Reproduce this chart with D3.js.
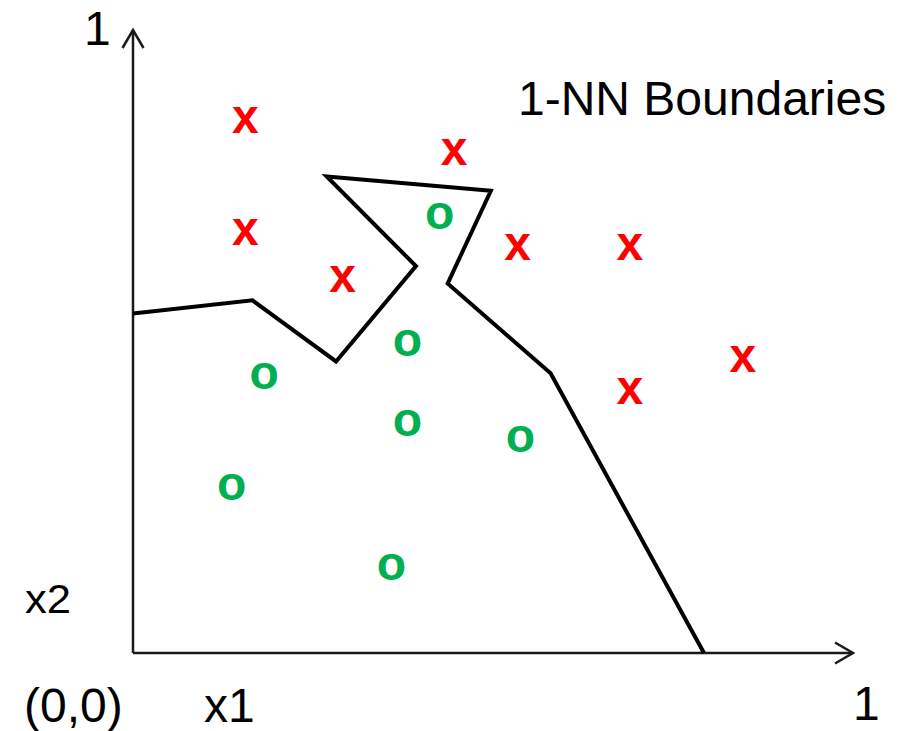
<!DOCTYPE html>
<html>
<head>
<meta charset="utf-8">
<script src="https://cdn.jsdelivr.net/npm/d3@7"></script>
<style>
  html, body { margin: 0; padding: 0; background: #fff; }
  svg { display: block; font-family: "Liberation Sans", Arial, sans-serif; }
</style>
</head>
<body>
<svg id="chart" width="914" height="731"></svg>
<script>
// Class "x" training points (x1, x2)
const crossX1 = [0.156, 0.156, 0.446, 0.291, 0.534, 0.690, 0.847, 0.690];
const crossX2 = [0.855, 0.675, 0.804, 0.599, 0.651, 0.651, 0.471, 0.420];

// Class "o" training points (x1, x2)
const circleX1 = [0.426, 0.381, 0.182, 0.381, 0.538, 0.137, 0.359];
const circleX2 = [0.701, 0.497, 0.444, 0.369, 0.342, 0.266, 0.137];

// 1-NN decision boundary vertices
const boundaryX1 = [0.000, 0.166, 0.282, 0.393, 0.269, 0.497, 0.437, 0.580, 0.793];
const boundaryX2 = [0.545, 0.566, 0.468, 0.621, 0.765, 0.742, 0.593, 0.449, 0.000];

const title = "1-NN Boundaries";

const svg = d3.select("#chart");
const x = d3.scaleLinear().domain([0, 1]).range([133, 853]);
const y = d3.scaleLinear().domain([0, 1]).range([653, 30]);

const axisColor = "#1a1a1a";

// axes with open arrowheads
svg.append("line")
  .attr("x1", x(0)).attr("y1", y(0)).attr("x2", x(1)).attr("y2", y(0))
  .attr("stroke", axisColor).attr("stroke-width", 2.5);
svg.append("line")
  .attr("x1", x(0)).attr("y1", y(0)).attr("x2", x(0)).attr("y2", y(1))
  .attr("stroke", axisColor).attr("stroke-width", 2.5);
svg.append("path")
  .attr("d", `M${x(1) - 18},${y(0) - 10.5}L${x(1)},${y(0)}L${x(1) - 18},${y(0) + 10.5}`)
  .attr("fill", "none").attr("stroke", axisColor).attr("stroke-width", 2.5);
svg.append("path")
  .attr("d", `M${x(0) - 10.5},${y(1) + 18}L${x(0)},${y(1)}L${x(0) + 10.5},${y(1) + 18}`)
  .attr("fill", "none").attr("stroke", axisColor).attr("stroke-width", 2.5);

// axis labels
const labelSize = 48;
svg.append("text").attr("x", 84).attr("y", 45).attr("font-size", labelSize).text("1");
svg.append("text").attr("x", 853).attr("y", 720).attr("font-size", labelSize).text("1");
svg.append("text").attr("x", 24).attr("y", 722).attr("font-size", labelSize).text("(0,0)");
svg.append("text").attr("x", 204).attr("y", 722).attr("font-size", labelSize).text("x1");
svg.append("text").attr("x", 25).attr("y", 613).attr("font-size", 40)
  .attr("textLength", 46).attr("lengthAdjust", "spacingAndGlyphs").text("x2");

// title
svg.append("text").attr("x", 518).attr("y", 115).attr("font-size", labelSize).text(title);

// decision boundary
const boundary = boundaryX1.map((v, i) => [v, boundaryX2[i]]);
svg.append("path")
  .datum(boundary)
  .attr("d", d3.line().x(d => x(d[0])).y(d => y(d[1])))
  .attr("fill", "none")
  .attr("stroke", "#000")
  .attr("stroke-width", 4)
  .attr("stroke-linejoin", "miter");

// training points drawn as bold glyphs
const crosses = crossX1.map((v, i) => [v, crossX2[i]]);
const circles = circleX1.map((v, i) => [v, circleX2[i]]);

svg.append("g").selectAll("text")
  .data(crosses).join("text")
  .attr("x", d => x(d[0]))
  .attr("y", d => y(d[1]))
  .attr("dy", "0.26em")
  .attr("text-anchor", "middle")
  .attr("font-size", 48)
  .attr("font-weight", "bold")
  .attr("fill", "#ff0000")
  .text("x");

svg.append("g").selectAll("text")
  .data(circles).join("text")
  .attr("x", d => x(d[0]))
  .attr("y", d => y(d[1]))
  .attr("dy", "0.26em")
  .attr("text-anchor", "middle")
  .attr("font-size", 48)
  .attr("font-weight", "bold")
  .attr("fill", "#00b050")
  .text("o");
</script>
</body>
</html>
